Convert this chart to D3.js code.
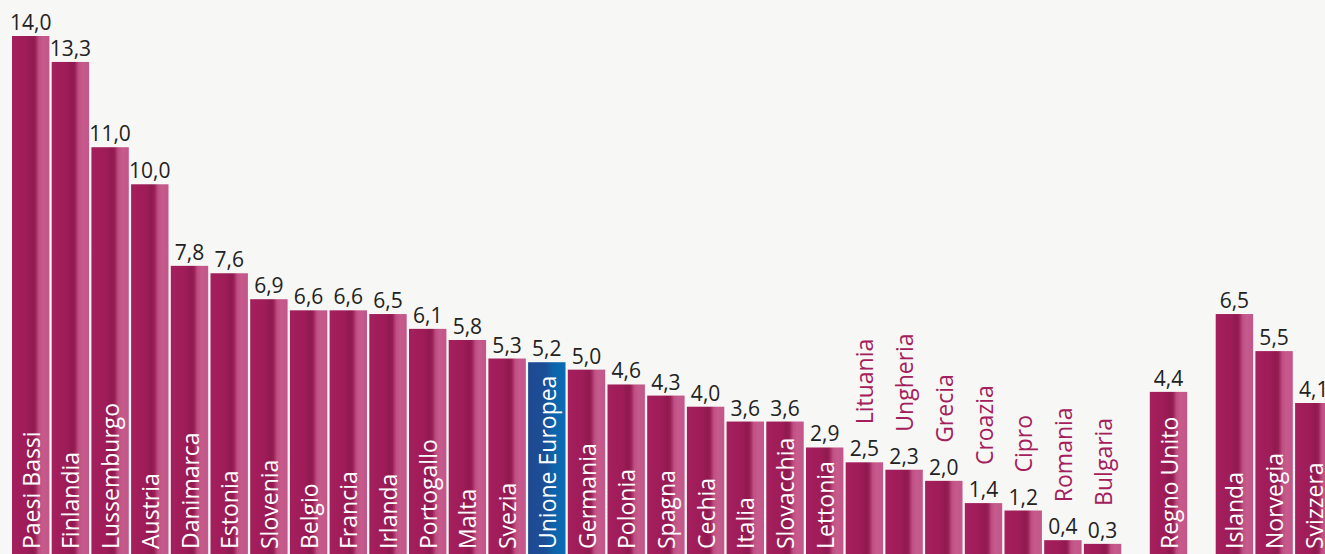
<!DOCTYPE html>
<html>
  <head>
    <script src="https://d3js.org/d3.v7.min.js"></script>
    <style>
      body { margin: 0; background: #f7f7f5; }
      svg { display: block; }
    </style>
  </head>
  <body>
    <div id="chart"></div>
    <script>
      // data
      const countries = ["Paesi Bassi", "Finlandia", "Lussemburgo", "Austria", "Danimarca", "Estonia",
        "Slovenia", "Belgio", "Francia", "Irlanda", "Portogallo", "Malta", "Svezia", "Unione Europea",
        "Germania", "Polonia", "Spagna", "Cechia", "Italia", "Slovacchia", "Lettonia", "Lituania",
        "Ungheria", "Grecia", "Croazia", "Cipro", "Romania", "Bulgaria",
        "Regno Unito", "Islanda", "Norvegia", "Svizzera"];
      const values = [14.0, 13.3, 11.0, 10.0, 7.8, 7.6, 6.9, 6.6, 6.6, 6.5, 6.1, 5.8, 5.3, 5.2,
        5.0, 4.6, 4.3, 4.0, 3.6, 3.6, 2.9, 2.5, 2.3, 2.0, 1.4, 1.2, 0.4, 0.3,
        4.4, 6.5, 5.5, 4.1];
      // 0 = EU members, 1 = UK, 2 = EFTA
      const groups = [0,0,0,0,0,0,0,0,0,0,0,0,0,0,0,0,0,0,0,0,0,0,0,0,0,0,0,0, 1, 2,2,2];
      const highlight = "Unione Europea";

      const width = 1325, height = 554;
      const step = 39.7, barW = 37.4, groupGap = 0.66;

      const data = countries.map((c, i) => ({
        name: c, value: values[i], slot: i + groups[i] * groupGap
      }));

      const svg = d3.select("#chart").append("svg")
        .attr("width", width)
        .attr("height", height);

      svg.append("rect").attr("width", width).attr("height", height).attr("fill", "#f7f7f5");

      const defs = svg.append("defs");
      const pink = defs.append("linearGradient").attr("id", "pink")
        .attr("x1", "0%").attr("x2", "100%").attr("y1", "0%").attr("y2", "0%");
      [["0%", "#a51f5d"], ["40%", "#9e1c58"], ["55%", "#8f1a4f"], ["62%", "#9a1e56"],
       ["72%", "#be4f84"], ["82%", "#c55a8b"], ["100%", "#c3568a"]].forEach(s =>
        pink.append("stop").attr("offset", s[0]).attr("stop-color", s[1]));
      const blue = defs.append("linearGradient").attr("id", "blue")
        .attr("x1", "0%").attr("x2", "100%").attr("y1", "0%").attr("y2", "0%");
      [["0%", "#1f4a92"], ["45%", "#1c4d96"], ["65%", "#0f62a8"], ["100%", "#086db5"]].forEach(s =>
        blue.append("stop").attr("offset", s[0]).attr("stop-color", s[1]));

      const x = d3.scaleLinear().domain([0, 1]).range([12, 12 + step]);
      const y = d3.scaleLinear().domain([0, 14]).range([555, 36]);

      const font = "'Open Sans', 'Noto Sans', sans-serif";

      const bar = svg.selectAll("g.bar")
        .data(data)
        .enter()
        .append("g")
        .attr("class", "bar")
        .attr("transform", d => "translate(" + x(d.slot) + ",0)");

      bar.append("rect")
        .attr("x", 0)
        .attr("y", d => y(d.value))
        .attr("width", barW)
        .attr("height", d => y(0) - y(d.value))
        .attr("fill", d => d.name == highlight ? "url(#blue)" : "url(#pink)");

      // value on top of each bar
      bar.append("text")
        .attr("x", barW / 2)
        .attr("y", d => y(d.value) - 6)
        .attr("text-anchor", "middle")
        .style("font-family", font)
        .style("font-size", "21px")
        .style("fill", "#222")
        .text(d => d3.format(".1f")(d.value).replace(".", ","));

      // country names, inside the bar if they fit, above the value otherwise
      bar.append("text")
        .attr("class", "name")
        .attr("text-anchor", "start")
        .attr("dominant-baseline", "central")
        .style("font-family", font)
        .style("font-size", "23px")
        .text(d => d.name)
        .each(function(d) {
          const len = this.getComputedTextLength();
          const h = y(0) - y(d.value);
          const t = d3.select(this);
          if (len + 12 < h) {
            t.attr("transform", "translate(" + (barW / 2) + "," + (height - 5) + ") rotate(-90)")
              .style("fill", "#fff");
          } else {
            t.attr("transform", "translate(" + (barW / 2) + "," + (y(d.value) - 38) + ") rotate(-90)")
              .style("fill", "#a3205c");
          }
        });
    </script>
  </body>
</html>
